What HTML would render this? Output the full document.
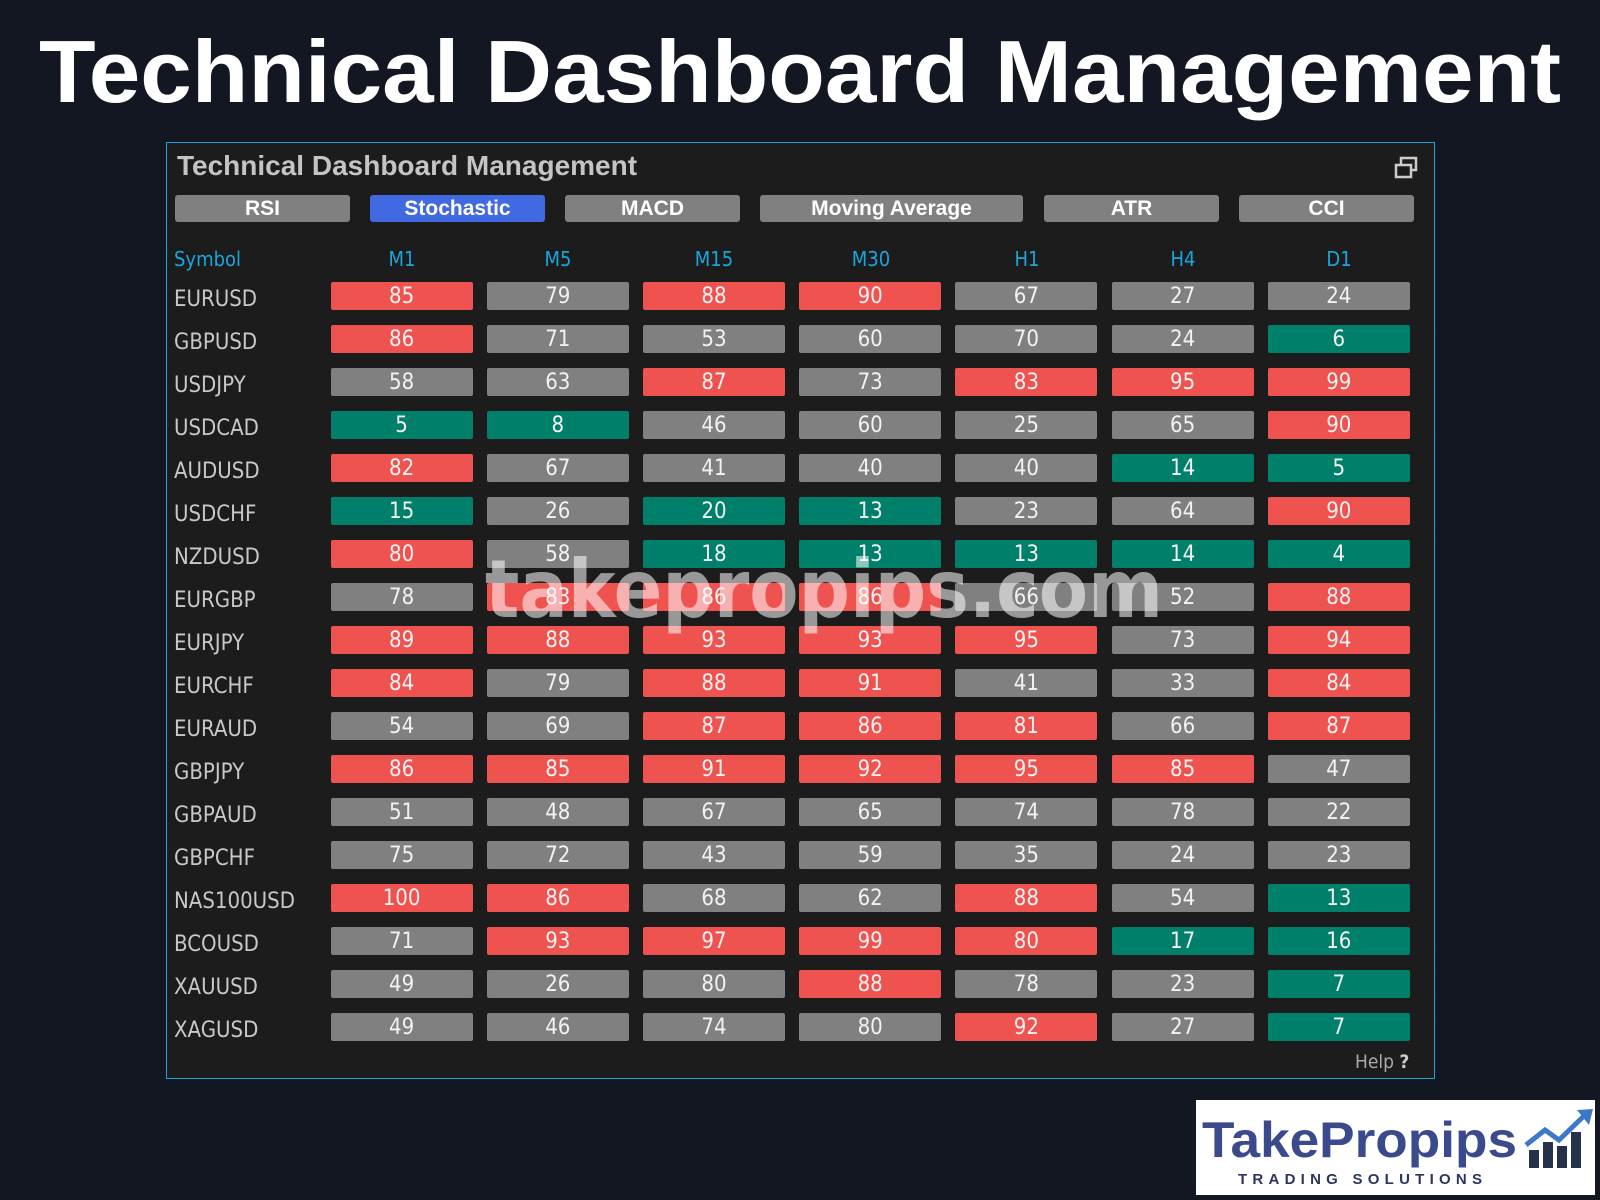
<!DOCTYPE html>
<html><head><meta charset="utf-8"><style>
*{margin:0;padding:0;box-sizing:border-box}
body{width:1600px;height:1200px;background:#131722;position:relative;overflow:hidden;font-family:"Liberation Sans",sans-serif}
#title{position:absolute;left:0;top:0}
#panel{position:absolute;left:166px;top:142px;width:1269px;height:937px;background:#1c1c1c;border:1.5px solid #1ca3dc}
.pt{position:absolute;left:177px;top:150px;font:bold 28px "Liberation Sans",sans-serif;color:#c4c4c4}
.tab{position:absolute;top:195px;height:27px;background:#808080;border-radius:3px;color:#fff;font:bold 21px "Liberation Sans",sans-serif;text-align:center;line-height:28px}
.hd{position:absolute;top:247px;color:#1aa6dd;font:20px "DejaVu Sans Condensed","Liberation Sans",sans-serif;width:142px;text-align:center}
.row{position:absolute;left:174px;height:28px;width:1250px}
.sym{position:absolute;left:0;top:4px;color:#c8c8c8;font:22px "DejaVu Sans Condensed","Liberation Sans",sans-serif;line-height:28px}
.c{position:absolute;top:0;width:142px;height:28px;border-radius:2px;color:#f2f2f2;font:22px "DejaVu Sans Condensed","Liberation Sans",sans-serif;text-align:center;line-height:29px;background:#808080}
.r{background:#ef5350}.g{background:#00806a}
.c:nth-child(2){left:156.6px}.c:nth-child(3){left:312.8px}.c:nth-child(4){left:469px}.c:nth-child(5){left:625.2px}.c:nth-child(6){left:781.4px}.c:nth-child(7){left:937.6px}.c:nth-child(8){left:1093.8px}
#wm{position:absolute;left:0;top:0}
#logo{position:absolute;left:1196px;top:1100px;width:399px;height:95px;background:#fff}
</style></head><body>
<svg id="title" width="1600" height="130"><text x="800" y="102" text-anchor="middle" textLength="1522" lengthAdjust="spacingAndGlyphs" font-family="Liberation Sans" font-weight="bold" font-size="88" fill="#fff">Technical Dashboard Management</text></svg>
<div id="panel"></div>
<div class="pt">Technical Dashboard Management</div>
<svg style="position:absolute;left:1394px;top:155px" width="26" height="26"><rect x="7" y="3" width="15" height="12" fill="none" stroke="#ccc" stroke-width="2.5"/><rect x="2" y="10" width="15" height="12" fill="#1c1c1c" stroke="#ccc" stroke-width="2.5"/></svg>
<div class="tab" style="left:175px;width:175px">RSI</div>
<div class="tab" style="left:370px;width:175px;background:#4169e1">Stochastic</div>
<div class="tab" style="left:565px;width:175px">MACD</div>
<div class="tab" style="left:760px;width:263px">Moving Average</div>
<div class="tab" style="left:1044px;width:175px">ATR</div>
<div class="tab" style="left:1239px;width:175px">CCI</div>
<div class="hd" style="left:174px;text-align:left">Symbol</div>
<div class="hd" style="left:331px">M1</div><div class="hd" style="left:487px">M5</div><div class="hd" style="left:643px">M15</div><div class="hd" style="left:800px">M30</div><div class="hd" style="left:956px">H1</div><div class="hd" style="left:1112px">H4</div><div class="hd" style="left:1268px">D1</div>

<div class="row" style="top:282px"><div class="sym">EURUSD</div><div class="c r" style="left:156.6px">85</div><div class="c">79</div><div class="c r">88</div><div class="c r">90</div><div class="c">67</div><div class="c">27</div><div class="c">24</div></div>
<div class="row" style="top:325px"><div class="sym">GBPUSD</div><div class="c r" style="left:156.6px">86</div><div class="c">71</div><div class="c">53</div><div class="c">60</div><div class="c">70</div><div class="c">24</div><div class="c g">6</div></div>
<div class="row" style="top:368px"><div class="sym">USDJPY</div><div class="c" style="left:156.6px">58</div><div class="c">63</div><div class="c r">87</div><div class="c">73</div><div class="c r">83</div><div class="c r">95</div><div class="c r">99</div></div>
<div class="row" style="top:411px"><div class="sym">USDCAD</div><div class="c g" style="left:156.6px">5</div><div class="c g">8</div><div class="c">46</div><div class="c">60</div><div class="c">25</div><div class="c">65</div><div class="c r">90</div></div>
<div class="row" style="top:454px"><div class="sym">AUDUSD</div><div class="c r" style="left:156.6px">82</div><div class="c">67</div><div class="c">41</div><div class="c">40</div><div class="c">40</div><div class="c g">14</div><div class="c g">5</div></div>
<div class="row" style="top:497px"><div class="sym">USDCHF</div><div class="c g" style="left:156.6px">15</div><div class="c">26</div><div class="c g">20</div><div class="c g">13</div><div class="c">23</div><div class="c">64</div><div class="c r">90</div></div>
<div class="row" style="top:540px"><div class="sym">NZDUSD</div><div class="c r" style="left:156.6px">80</div><div class="c">58</div><div class="c g">18</div><div class="c g">13</div><div class="c g">13</div><div class="c g">14</div><div class="c g">4</div></div>
<div class="row" style="top:583px"><div class="sym">EURGBP</div><div class="c" style="left:156.6px">78</div><div class="c r">83</div><div class="c r">86</div><div class="c r">86</div><div class="c">66</div><div class="c">52</div><div class="c r">88</div></div>
<div class="row" style="top:626px"><div class="sym">EURJPY</div><div class="c r" style="left:156.6px">89</div><div class="c r">88</div><div class="c r">93</div><div class="c r">93</div><div class="c r">95</div><div class="c">73</div><div class="c r">94</div></div>
<div class="row" style="top:669px"><div class="sym">EURCHF</div><div class="c r" style="left:156.6px">84</div><div class="c">79</div><div class="c r">88</div><div class="c r">91</div><div class="c">41</div><div class="c">33</div><div class="c r">84</div></div>
<div class="row" style="top:712px"><div class="sym">EURAUD</div><div class="c" style="left:156.6px">54</div><div class="c">69</div><div class="c r">87</div><div class="c r">86</div><div class="c r">81</div><div class="c">66</div><div class="c r">87</div></div>
<div class="row" style="top:755px"><div class="sym">GBPJPY</div><div class="c r" style="left:156.6px">86</div><div class="c r">85</div><div class="c r">91</div><div class="c r">92</div><div class="c r">95</div><div class="c r">85</div><div class="c">47</div></div>
<div class="row" style="top:798px"><div class="sym">GBPAUD</div><div class="c" style="left:156.6px">51</div><div class="c">48</div><div class="c">67</div><div class="c">65</div><div class="c">74</div><div class="c">78</div><div class="c">22</div></div>
<div class="row" style="top:841px"><div class="sym">GBPCHF</div><div class="c" style="left:156.6px">75</div><div class="c">72</div><div class="c">43</div><div class="c">59</div><div class="c">35</div><div class="c">24</div><div class="c">23</div></div>
<div class="row" style="top:884px"><div class="sym">NAS100USD</div><div class="c r" style="left:156.6px">100</div><div class="c r">86</div><div class="c">68</div><div class="c">62</div><div class="c r">88</div><div class="c">54</div><div class="c g">13</div></div>
<div class="row" style="top:927px"><div class="sym">BCOUSD</div><div class="c" style="left:156.6px">71</div><div class="c r">93</div><div class="c r">97</div><div class="c r">99</div><div class="c r">80</div><div class="c g">17</div><div class="c g">16</div></div>
<div class="row" style="top:970px"><div class="sym">XAUUSD</div><div class="c" style="left:156.6px">49</div><div class="c">26</div><div class="c">80</div><div class="c r">88</div><div class="c">78</div><div class="c">23</div><div class="c g">7</div></div>
<div class="row" style="top:1013px"><div class="sym">XAGUSD</div><div class="c" style="left:156.6px">49</div><div class="c">46</div><div class="c">74</div><div class="c">80</div><div class="c r">92</div><div class="c">27</div><div class="c g">7</div></div>

<div style="position:absolute;left:1355px;top:1051px;color:#aaa;font:19px 'DejaVu Sans Condensed','Liberation Sans',sans-serif">Help <b style="color:#ccc">?</b></div>

<svg id="wm" width="1600" height="1200"><text x="824" y="617" text-anchor="middle" textLength="678" lengthAdjust="spacingAndGlyphs" font-family="DejaVu Sans" font-size="80" font-weight="bold" fill="#fff" fill-opacity="0.55">takepropips.com</text></svg>

<div id="logo">
<svg width="399" height="95"><text x="6" y="57" textLength="315" lengthAdjust="spacingAndGlyphs" font-family="Liberation Sans" font-weight="bold" font-size="50" fill="#3a4a8c">TakePropips</text>
<text x="42" y="84" textLength="244" lengthAdjust="spacing" font-family="Liberation Sans" font-weight="bold" font-size="15" fill="#2c3560">TRADING SOLUTIONS</text>
<rect x="333" y="50" width="10" height="18" fill="#26324a"/><rect x="347" y="42" width="10" height="26" fill="#26324a"/><rect x="361" y="46" width="10" height="22" fill="#26324a"/><rect x="375" y="32" width="10" height="36" fill="#26324a"/>
<polyline points="330,45 349,30 363,40 390,14" fill="none" stroke="#3b78c8" stroke-width="5"/><polygon points="381,10 397,9 393,25" fill="#3b78c8"/></svg>
</div>
</body></html>
